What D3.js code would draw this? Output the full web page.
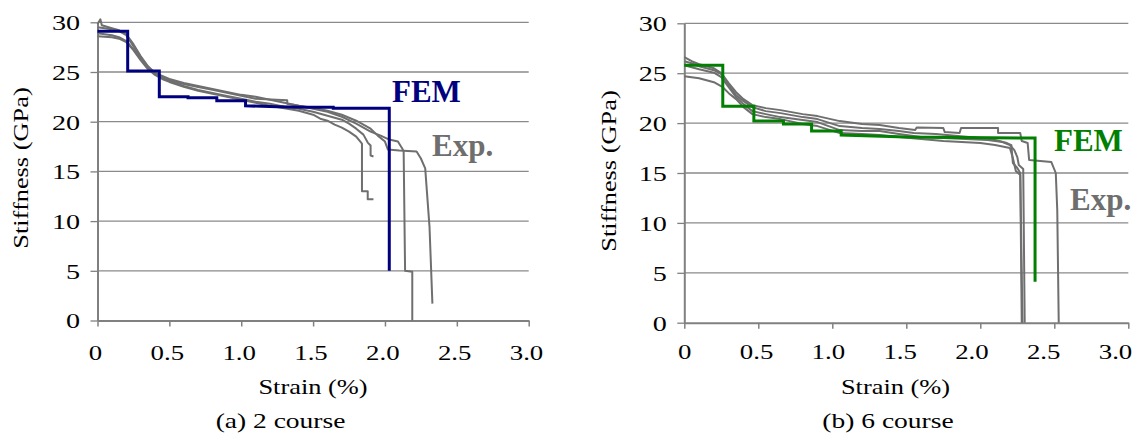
<!DOCTYPE html>
<html>
<head>
<meta charset="utf-8">
<script src="https://cdn.jsdelivr.net/npm/d3@7"></script>
<style>
  html, body { margin: 0; padding: 0; background: #fff; }
  svg { display: block; }
</style>
</head>
<body>
<svg id="chart" width="1139" height="440"></svg>
<script>
// ---------- data ----------
const xTicks = [0, 0.5, 1, 1.5, 2, 2.5, 3];
const xTickLabels = ["0", "0.5", "1.0", "1.5", "2.0", "2.5", "3.0"];
const yTicks = [0, 5, 10, 15, 20, 25, 30];
const yTickLabels = ["0", "5", "10", "15", "20", "25", "30"];

const xTitle = "Strain (%)";
const yTitle = "Stiffness (GPa)";
const captions = ["(a) 2 course", "(b) 6 course"];
const femLabel = "FEM";
const expLabel = "Exp.";

// (a) 2 course — FEM step curve [strain %, stiffness GPa]
const fem2 = [[0,29.1],[0.21,29.1],[0.21,25.1],[0.43,25.1],[0.43,22.5],[0.63,22.5],[0.63,22.4],
  [0.83,22.4],[0.83,22.1],[1.03,22.1],[1.03,21.6],[1.25,21.5],[1.45,21.45],[1.64,21.45],[1.64,21.35],
  [2.03,21.35],[2.03,5.0]];
// (a) 2 course — experimental curves
const exp2a = [[0,28.6],[0.05,28.55],[0.1,28.5],[0.15,28.35],[0.2,28.0],[0.25,27.2],[0.3,26.2],[0.35,25.3],
  [0.4,24.7],[0.45,24.3],[0.5,24.0],[0.6,23.5],[0.7,23.1],[0.8,22.8],[0.9,22.5],[1.0,22.2],[1.1,21.9],
  [1.2,21.6],[1.3,21.35],[1.4,21.1],[1.5,20.7],[1.55,20.3],[1.6,20.1],[1.65,19.7],[1.7,19.4],[1.75,19.0],
  [1.8,18.5],[1.84,17.8],[1.84,13.0],[1.88,13.0],[1.88,12.2],[1.92,12.2]];
const exp2b = [[0,28.9],[0.05,28.8],[0.1,28.7],[0.15,28.5],[0.2,28.1],[0.25,27.3],[0.3,26.3],[0.35,25.4],
  [0.4,24.8],[0.45,24.4],[0.5,24.1],[0.6,23.6],[0.7,23.2],[0.8,22.9],[0.9,22.6],[1.0,22.3],[1.1,22.0],
  [1.2,21.8],[1.3,21.5],[1.4,21.3],[1.5,21.0],[1.6,20.6],[1.7,20.2],[1.75,19.8],[1.8,19.3],[1.85,18.7],
  [1.88,17.9],[1.9,17.6],[1.9,16.6],[1.92,16.5]];
const exp2c = [[0,29.8],[0.02,30.3],[0.03,29.7],[0.1,29.4],[0.15,29.2],[0.2,28.8],[0.25,27.8],[0.3,26.6],
  [0.35,25.6],[0.4,24.9],[0.45,24.6],[0.5,24.3],[0.6,23.9],[0.7,23.6],[0.8,23.3],[0.9,23.0],[1.0,22.7],
  [1.1,22.5],[1.2,22.2],[1.3,21.9],[1.4,21.6],[1.5,21.3],[1.6,21.0],[1.7,20.5],[1.8,19.8],[1.9,19.0],
  [1.97,18.6],[2.03,18.2],[2.09,18.0],[2.12,17.3],[2.13,17.0],[2.14,5.0],[2.19,4.9],[2.19,0]];
const exp2d = [[0,29.5],[0.05,29.4],[0.1,29.3],[0.15,29.1],[0.2,28.7],[0.25,27.6],[0.3,26.5],[0.35,25.5],
  [0.4,24.8],[0.45,24.5],[0.5,24.2],[0.6,23.8],[0.7,23.5],[0.8,23.2],[0.9,22.9],[1.0,22.6],[1.1,22.3],
  [1.32,22.15],[1.32,21.8],[1.4,21.6],[1.5,21.4],[1.6,21.1],[1.7,20.7],[1.8,20.1],[1.9,19.3],[1.95,18.6],
  [2.0,18.0],[2.02,17.2],[2.1,17.1],[2.22,17.0],[2.25,16.3],[2.28,15.3],[2.31,9.4],[2.33,1.7]];

// (b) 6 course — FEM step curve
const fem6 = [[0,25.8],[0.26,25.8],[0.26,21.7],[0.47,21.7],[0.47,20.2],[0.67,20.2],[0.67,19.9],
  [0.86,19.9],[0.86,19.2],[1.06,19.2],[1.06,18.8],[1.5,18.6],[2.37,18.5],[2.37,4.1]];
// (b) 6 course — experimental curves
const exp6a = [[0,26.6],[0.05,26.2],[0.1,25.9],[0.2,25.5],[0.25,25.0],[0.3,24.0],[0.35,23.1],[0.4,22.4],
  [0.46,21.8],[0.55,21.5],[0.65,21.3],[0.8,20.9],[0.9,20.7],[1.05,20.2],[1.2,19.9],[1.32,19.8],
  [1.45,19.5],[1.56,19.3],[1.57,19.55],[1.75,19.5],[1.76,19.1],[1.86,19.0],[1.87,19.5],[2.12,19.5],
  [2.12,19.0],[2.27,19.0],[2.28,18.2],[2.32,18.0],[2.33,16.3],[2.48,16.1],[2.51,15.0],[2.52,11.3],[2.53,0]];
const exp6b = [[0,26.2],[0.05,26.0],[0.1,25.7],[0.2,25.3],[0.25,24.9],[0.3,23.8],[0.35,22.8],[0.4,22.2],
  [0.46,21.6],[0.55,21.2],[0.65,21.0],[0.8,20.6],[0.9,20.4],[1.05,19.7],[1.2,19.5],[1.32,19.4],
  [1.45,19.2],[1.55,19.0],[1.7,18.9],[1.85,18.7],[2.0,18.5],[2.1,18.3],[2.18,18.0],[2.21,17.8],
  [2.22,16.0],[2.25,15.5],[2.27,15.0],[2.28,0]];
const exp6c = [[0,25.8],[0.05,25.6],[0.1,25.4],[0.2,25.05],[0.25,24.6],[0.3,23.6],[0.35,22.6],[0.4,21.9],
  [0.46,21.2],[0.55,20.9],[0.65,20.6],[0.8,20.3],[0.9,20.1],[1.05,19.3],[1.2,19.2],[1.32,19.2],
  [1.45,18.9],[1.6,18.6],[1.75,18.5],[1.9,18.4],[2.05,18.3],[2.15,18.1],[2.2,17.8],[2.23,17.3],
  [2.25,16.6],[2.26,15.8],[2.29,15.4],[2.30,0]];
const exp6d = [[0,24.7],[0.1,24.5],[0.2,24.1],[0.26,23.6],[0.3,23.0],[0.35,22.4],[0.4,21.6],[0.46,20.9],
  [0.55,20.6],[0.65,20.4],[0.8,19.9],[0.9,19.7],[1.05,19.0],[1.2,18.9],[1.32,18.8],[1.45,18.6],
  [1.6,18.4],[1.75,18.2],[2.0,18.0],[2.1,17.8],[2.2,17.5],[2.22,16.5],[2.24,15.2],[2.27,14.8],[2.285,0]];

// ---------- drawing ----------
const svg = d3.select("#chart");
const FONT = "'Liberation Serif','Times New Roman',Times,serif";
const GRAY_LINE = "#6f6f6f";
const AXIS_COLOR = "#808080";
const GRID_COLOR = "#8a8a8a";

function drawPanel(p) {
  const x = d3.scaleLinear().domain([0, 3]).range(p.xRange);
  const xLab = d3.scaleLinear().domain([0, 3]).range(p.xLabelRange);
  const y = d3.scaleLinear().domain([0, 30]).range(p.yRange);
  const g = svg.append("g");

  // gridlines
  g.append("g").selectAll("line").data(yTicks.filter(d => d > 0)).join("line")
    .attr("x1", x(0)).attr("x2", x(3))
    .attr("y1", d => y(d)).attr("y2", d => y(d))
    .attr("stroke", GRID_COLOR).attr("stroke-width", 1.3);

  // x axis (line + tick marks)
  const xa = g.append("g").attr("transform", `translate(0,${y(0)})`)
    .call(d3.axisBottom(x).tickValues(xTicks).tickFormat("").tickSize(6).tickSizeOuter(0));
  xa.select(".domain").attr("stroke", AXIS_COLOR).attr("stroke-width", 2);
  xa.selectAll(".tick line").attr("stroke", AXIS_COLOR).attr("stroke-width", 1.5);

  // x tick labels
  const xl = g.append("g").attr("transform", `translate(0,${y(0)})`)
    .call(d3.axisBottom(xLab).tickValues(xTicks).tickFormat((d, i) => xTickLabels[i]).tickSize(0));
  xl.select(".domain").remove();
  xl.selectAll(".tick text")
    .attr("y", p.xLabelDy).attr("dy", null)
    .attr("transform", "scale(1.22,1)")
    .attr("fill", "#000").style("font-family", FONT).style("font-size", "22px");

  // y axis
  const ya = g.append("g").attr("transform", `translate(${x(0)},0)`)
    .call(d3.axisLeft(y).tickValues(yTicks).tickFormat((d, i) => yTickLabels[i])
      .tickSize(7).tickSizeOuter(0));
  ya.select(".domain").attr("stroke", AXIS_COLOR).attr("stroke-width", 2);
  ya.selectAll(".tick line").attr("stroke", AXIS_COLOR).attr("stroke-width", 1.3);
  ya.selectAll(".tick text")
    .attr("x", -17.5 / 1.28).attr("dy", "0.34em")
    .attr("transform", "scale(1.28,1)")
    .attr("fill", "#000").style("font-family", FONT).style("font-size", "22px");

  // lines
  const line = d3.line().x(d => x(d[0])).y(d => y(d[1]));
  g.append("g").selectAll("path").data(p.exp).join("path")
    .attr("d", line).attr("fill", "none")
    .attr("stroke", GRAY_LINE).attr("stroke-width", 2).attr("stroke-linejoin", "round");
  g.append("path").datum(p.fem).attr("d", line).attr("fill", "none")
    .attr("stroke", p.femColor).attr("stroke-width", 3).attr("stroke-linejoin", "miter");

  // axis titles
  g.append("text")
    .attr("transform", `translate(${p.yTitlePos[0]},${p.yTitlePos[1]}) rotate(-90) scale(1.2,1)`)
    .attr("text-anchor", "middle")
    .style("font-family", FONT).style("font-size", "22px").attr("fill", "#000")
    .text(yTitle);
  g.append("text")
    .attr("transform", `translate(${p.xTitlePos[0]},${p.xTitlePos[1]}) scale(1.2,1)`)
    .attr("text-anchor", "middle")
    .style("font-family", FONT).style("font-size", "22px").attr("fill", "#000")
    .text(xTitle);
  g.append("text")
    .attr("transform", `translate(${p.capPos[0]},${p.capPos[1]}) scale(1.25,1)`)
    .attr("text-anchor", "middle")
    .style("font-family", FONT).style("font-size", "22px").attr("fill", "#000")
    .text(p.caption);

  // annotations
  g.append("text").attr("x", p.femPos[0]).attr("y", p.femPos[1])
    .style("font-family", FONT).style("font-size", "31px").style("font-weight", "bold")
    .attr("fill", p.femColor).text(femLabel);
  g.append("text").attr("x", p.expPos[0]).attr("y", p.expPos[1])
    .style("font-family", FONT).style("font-size", "31px").style("font-weight", "bold")
    .attr("fill", "#6e6e6e").text(expLabel);
}

drawPanel({
  xRange: [97.5, 528.7], xLabelRange: [95, 526], yRange: [320.5, 22.3],
  fem: fem2, exp: [exp2a, exp2b, exp2c, exp2d], femColor: "#00007f",
  xLabelDy: 39.5,
  yTitlePos: [28, 168], xTitlePos: [313, 394], capPos: [280.5, 428], caption: captions[0],
  femPos: [392, 102], expPos: [432, 156]
});
drawPanel({
  xRange: [684.3, 1128.3], xLabelRange: [684.3, 1115], yRange: [322.7, 23.3],
  fem: fem6, exp: [exp6a, exp6b, exp6c, exp6d], femColor: "#007f00",
  xLabelDy: 36.5,
  yTitlePos: [616, 171], xTitlePos: [895.5, 394], capPos: [888, 428], caption: captions[1],
  femPos: [1054, 151], expPos: [1070, 210]
});
</script>
</body>
</html>
